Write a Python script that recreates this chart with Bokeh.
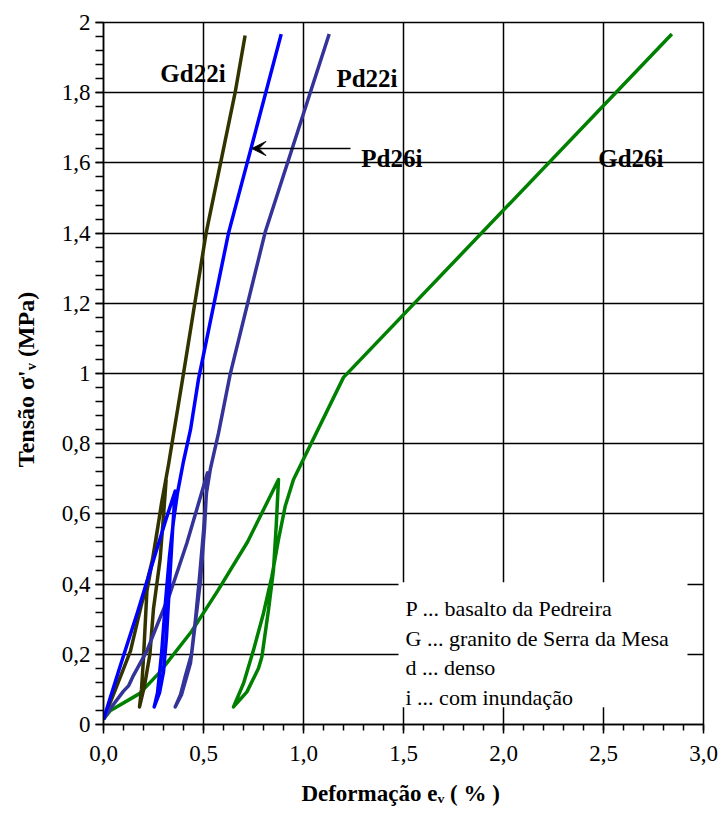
import numpy as np
from bokeh.plotting import figure
from bokeh.models import Range1d, FixedTicker, Arrow, VeeHead
from bokeh.core.properties import value
from bokeh.embed import file_html
from bokeh.resources import INLINE

# ---------------- data ----------------
# Gd22i : loading -> unloading -> reloading
gd22i_x = [0.0, 0.06, 0.135, 0.185, 0.245, 0.285, 0.313,
           0.302, 0.283, 0.25, 0.232, 0.205, 0.18,
           0.19, 0.2, 0.217, 0.255, 0.29, 0.325, 0.40, 0.513, 0.658, 0.708]
gd22i_y = [0.015, 0.10, 0.21, 0.33, 0.47, 0.61, 0.696,
           0.61, 0.47, 0.33, 0.2, 0.11, 0.05,
           0.10, 0.19, 0.38, 0.50, 0.63, 0.74, 1.0, 1.4, 1.8, 1.963]

# Pd26i
pd26i_x = [0.0, 0.08, 0.17, 0.24, 0.31, 0.3585,
           0.345, 0.33, 0.315, 0.30, 0.28, 0.2535,
           0.27, 0.29, 0.31, 0.33, 0.35, 0.37, 0.40, 0.435, 0.475, 0.625, 0.737, 0.8885]
pd26i_y = [0.015, 0.16, 0.32, 0.45, 0.58, 0.665,
           0.55, 0.40, 0.25, 0.15, 0.09, 0.05,
           0.09, 0.20, 0.35, 0.48, 0.58, 0.66, 0.75, 0.84, 0.984, 1.40, 1.64, 1.967]

# Pd22i
pd22i_x = [0.0, 0.04, 0.10, 0.125, 0.15, 0.217, 0.28, 0.333, 0.417, 0.52,
           0.505, 0.485, 0.455, 0.435, 0.39, 0.3585,
           0.385, 0.41, 0.44, 0.46, 0.48, 0.50, 0.515, 0.535, 0.575, 0.6335, 0.8085, 1.1285]
pd22i_y = [0.015, 0.05, 0.095, 0.11, 0.14, 0.21, 0.30, 0.374, 0.517, 0.717,
           0.56, 0.41, 0.27, 0.175, 0.085, 0.05,
           0.085, 0.14, 0.20, 0.30, 0.42, 0.55, 0.66, 0.73, 0.83, 0.998, 1.403, 1.967]

# Gd26i
gd26i_x = [0.0, 0.035, 0.18, 0.275, 0.44, 0.57, 0.72, 0.875,
           0.8635, 0.85, 0.825, 0.792, 0.775, 0.717, 0.65,
           0.70, 0.75, 0.80, 0.842, 0.875, 0.9085, 0.95, 1.2, 2.842]
gd26i_y = [0.015, 0.04, 0.088, 0.145, 0.265, 0.38, 0.52, 0.698,
           0.565, 0.441, 0.327, 0.193, 0.16, 0.093, 0.05,
           0.117, 0.212, 0.317, 0.422, 0.527, 0.622, 0.698, 0.989, 1.967]

series_names = ["Gd26i", "Gd22i", "Pd22i", "Pd26i"]
series_x = [gd26i_x, gd22i_x, pd22i_x, pd26i_x]
series_y = [gd26i_y, gd22i_y, pd22i_y, pd26i_y]
series_colors = ["#008000", "#333300", "#333399", "#0000FF"]

# curve labels
label_text = ["Gd22i", "Pd22i", "Pd26i", "Gd26i"]
label_x = [0.4475, 1.3175, 1.4417, 2.637]
label_y = [1.855, 1.840, 1.6125, 1.6125]

# arrow for Pd26i
arrow_start = (1.235, 1.641)
arrow_end = (0.742, 1.641)

# legend notes
notes = ["P ... basalto da Pedreira",
         "G ... granito de Serra da Mesa",
         "d ... denso",
         "i ... com inundação"]
notes_y = [0.330, 0.245, 0.162, 0.077]
notes_x = 1.51
notes_box = dict(left=1.475, right=2.92, bottom=0.049, top=0.405)

# axis ticks and titles
x_ticks = [0.0, 0.5, 1.0, 1.5, 2.0, 2.5, 3.0]
x_tick_labels = ["0,0", "0,5", "1,0", "1,5", "2,0", "2,5", "3,0"]
y_ticks = [0.0, 0.2, 0.4, 0.6, 0.8, 1.0, 1.2, 1.4, 1.6, 1.8, 2.0]
y_tick_labels = ["0", "0,2", "0,4", "0,6", "0,8", "1", "1,2", "1,4", "1,6", "1,8", "2"]
x_minor = [round(v, 2) for v in np.arange(0, 3.0001, 0.1)]
y_minor = [round(v, 2) for v in np.arange(0, 2.0001, 0.04)]
x_title = "Deformação e\u1d65  ( % )"
y_title = "Tensão  σ'\u1d65  (MPa)"

# ---------------- figure ----------------
FONT = "Liberation Serif"
p = figure(width=723, height=821, output_backend="svg", toolbar_location=None,
           x_range=Range1d(0, 3), y_range=Range1d(0, 2),
           min_border_left=103, min_border_right=20, min_border_top=22, min_border_bottom=97)
p.background_fill_color = "white"
p.border_fill_color = "white"
p.outline_line_color = "black"
p.outline_line_width = 1.5

p.xaxis.ticker = FixedTicker(ticks=x_ticks, minor_ticks=x_minor)
p.yaxis.ticker = FixedTicker(ticks=y_ticks, minor_ticks=y_minor)
p.xaxis.major_label_overrides = dict(zip(x_ticks, x_tick_labels))
p.yaxis.major_label_overrides = dict(zip(y_ticks, y_tick_labels))
p.xaxis.axis_label = x_title
p.yaxis.axis_label = y_title

for ax in (p.xaxis, p.yaxis):
    ax.axis_line_color = "black"
    ax.axis_line_width = 1.5
    ax.major_tick_line_color = "black"
    ax.minor_tick_line_color = "black"
    ax.major_tick_line_width = 1.5
    ax.minor_tick_line_width = 1.5
    ax.major_tick_in = 0
    ax.minor_tick_in = 0
    ax.major_label_text_font = FONT
    ax.major_label_text_font_size = "23px"
    ax.major_label_text_color = "black"
    ax.axis_label_text_font = FONT
    ax.axis_label_text_font_style = "bold"
    ax.axis_label_text_color = "black"
p.xaxis.axis_label_text_font_size = "23px"
p.yaxis.axis_label_text_font_size = "24px"
p.xaxis.major_tick_out = 9
p.xaxis.minor_tick_out = 6
p.yaxis.major_tick_out = 8
p.yaxis.minor_tick_out = 8
p.xaxis.major_label_standoff = 12
p.yaxis.major_label_standoff = 5
p.xaxis.axis_label_standoff = 17
p.yaxis.axis_label_standoff = 20

p.xgrid.ticker = FixedTicker(ticks=x_ticks)
p.ygrid.ticker = FixedTicker(ticks=y_ticks)
for g in (p.xgrid, p.ygrid):
    g.grid_line_color = "black"
    g.grid_line_width = 1.5
    g.grid_line_alpha = 1.0

# white notes box
p.quad(left=[notes_box["left"]], right=[notes_box["right"]],
       bottom=[notes_box["bottom"]], top=[notes_box["top"]],
       fill_color="white", line_color=None)
p.text(x=[notes_x] * len(notes), y=notes_y, text=notes,
       text_font=value(FONT), text_font_size="22px", text_color="black",
       text_align="left", text_baseline="alphabetic")

# curves
for xs, ys, c in zip(series_x, series_y, series_colors):
    p.line(xs, ys, line_color=c, line_width=3.5, line_join="round")

# curve labels
p.text(x=label_x, y=label_y, text=label_text, text_font=value(FONT),
       text_font_size="25px", text_font_style="bold", text_color="black",
       text_align="center", text_baseline="alphabetic")

p.add_layout(Arrow(end=VeeHead(size=14, fill_color="black", line_color="black"),
                   x_start=arrow_start[0], y_start=arrow_start[1],
                   x_end=arrow_end[0], y_end=arrow_end[1],
                   line_color="black", line_width=1.5))

open("out.html", "w").write(file_html(p, INLINE))
